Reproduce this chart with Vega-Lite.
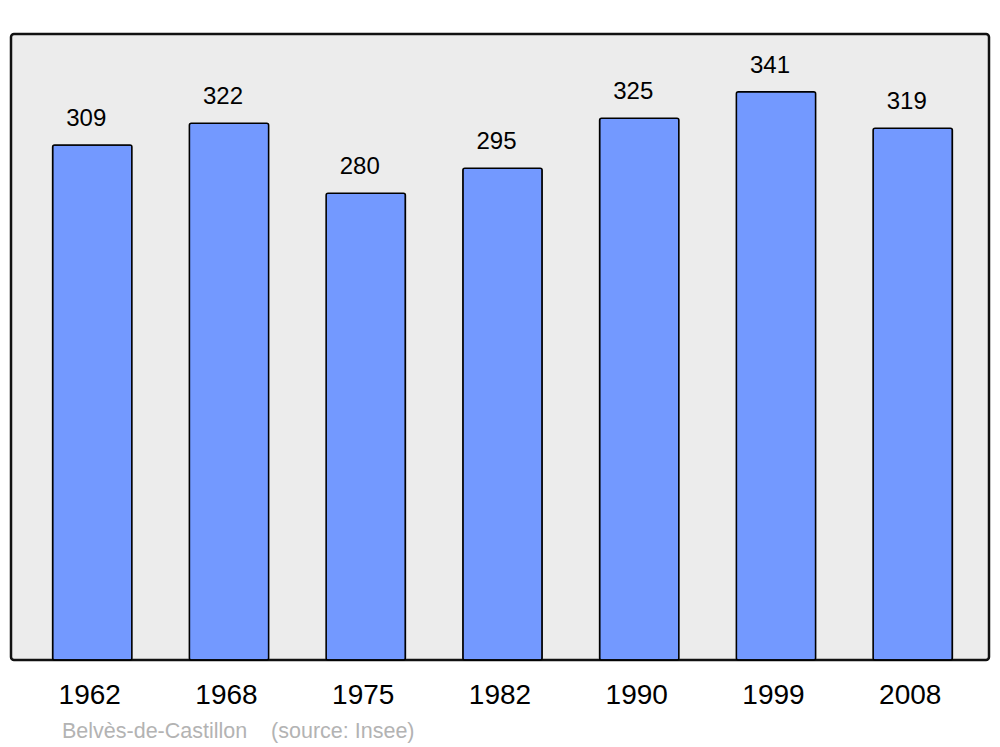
{
  "$schema": "https://vega.github.io/schema/vega-lite/v6.json",
  "autosize": "none",
  "width": 978,
  "height": 626,
  "padding": {"left": 11, "top": 34, "right": 11, "bottom": 87},
  "background": "white",
  "config": {
    "font": "Liberation Sans",
    "view": {"fill": "#ececec", "stroke": "#111111", "strokeWidth": 2.5, "cornerRadius": 3}
  },
  "title": {
    "text": "Belvès-de-Castillon\u00a0\u00a0\u00a0\u00a0(source: Insee)",
    "orient": "bottom",
    "anchor": "start",
    "dx": 51,
    "offset": 12,
    "fontSize": 21.5,
    "fontWeight": "normal",
    "color": "#b3b3b3",
    "font": "Liberation Sans"
  },
  "data": {
    "values": [
      {"year": "1962", "pop": 309},
      {"year": "1968", "pop": 322},
      {"year": "1975", "pop": 280},
      {"year": "1982", "pop": 295},
      {"year": "1990", "pop": 325},
      {"year": "1999", "pop": 341},
      {"year": "2008", "pop": 319}
    ]
  },
  "encoding": {
    "x": {
      "field": "year",
      "type": "ordinal",
      "sort": null,
      "scale": {"paddingInner": 0.42, "paddingOuter": 0.286, "range": [2.5, 980.5]},
      "axis": {
        "title": null,
        "labelAngle": 0,
        "labelFontSize": 28,
        "labelColor": "#000000",
        "labelPadding": 21,
        "labelOffset": -2.5,
        "ticks": false,
        "domain": false
      }
    },
    "y": {
      "field": "pop",
      "type": "quantitative",
      "scale": {"domain": [0, 375.6], "nice": false},
      "axis": null
    }
  },
  "layer": [
    {
      "mark": {"type": "bar", "fill": "#7399ff", "stroke": "#000000", "strokeWidth": 1.5, "cornerRadius": 2}
    },
    {
      "mark": {"type": "text", "baseline": "bottom", "dy": -14, "dx": -6, "fontSize": 24, "color": "#000000"},
      "encoding": {"text": {"field": "pop", "type": "quantitative"}}
    }
  ]
}
